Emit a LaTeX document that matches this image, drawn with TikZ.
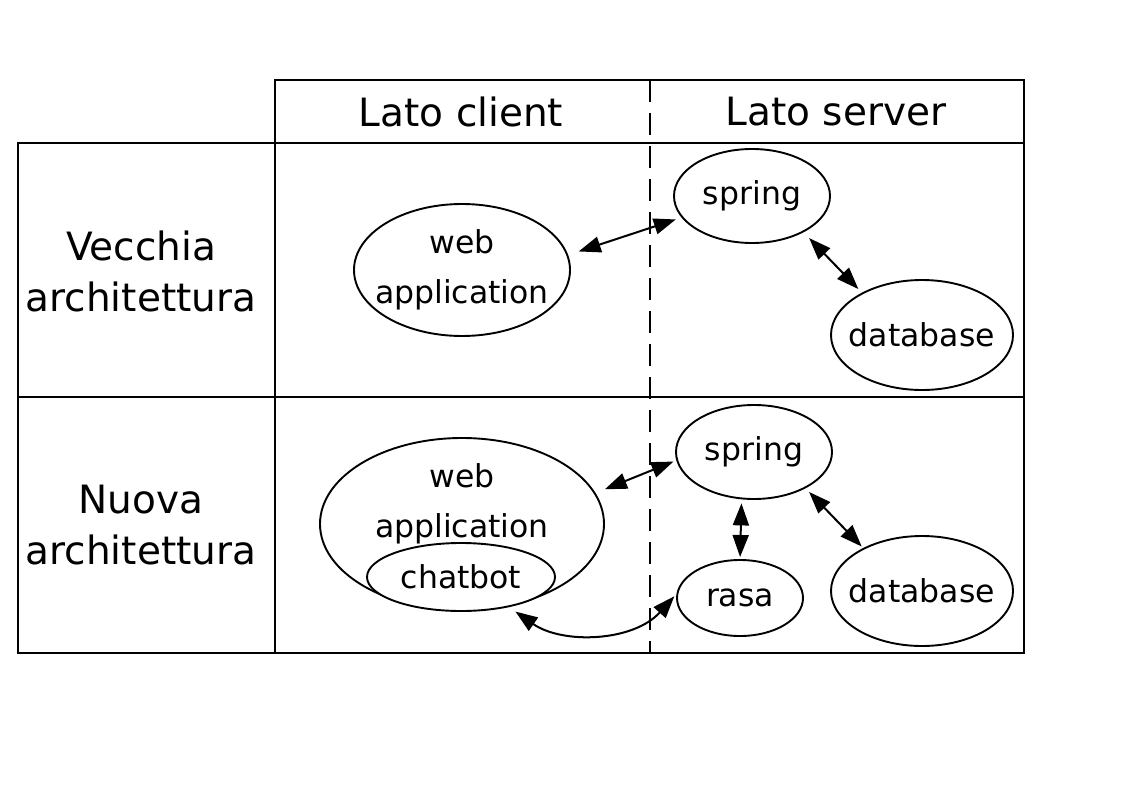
\documentclass[tikz,border=0pt]{standalone}
\usepackage{fontspec}
\setmainfont{DejaVu Sans}
\usetikzlibrary{shapes.geometric,arrows.meta}
\begin{document}
\begin{tikzpicture}[x=1pt, y=-1pt,
    blob/.style={ellipse, draw, fill=white, line width=1.9pt, inner sep=0pt, outer sep=0pt},
    word/.style={font=\fontsize{31.5}{50}\selectfont, align=center},
    head/.style={font=\fontsize{39}{51}\selectfont, align=center},
    link/.style={{Triangle[length=22pt,width=16pt]}-{Triangle[length=22pt,width=16pt]}, line width=2pt},
    grid/.style={line width=1.9pt}
]
  \useasboundingbox (0,0) rectangle (1123,794);

  % tabella
  \draw[grid] (275,80) rectangle (1024,143);
  \draw[grid] (18,143) rectangle (1024,653);
  \draw[grid] (275,143) -- (275,653);
  \draw[grid] (18,397) -- (1024,397);
  \draw[grid, dash pattern=on 22pt off 11pt] (650,80) -- (650,653);

  % intestazioni
  \node[head] (client) at (461,112) {Lato client};
  \node[head] (server) at (836,112) {Lato server};
  \node[head] (vecchia) at (141,271) {Vecchia\\architettura};
  \node[head] (nuova) at (141,525) {Nuova\\architettura};

  % vecchia architettura
  \node[blob, minimum width=216, minimum height=132] (web1) at (462,270) {};
  \node[blob, minimum width=156, minimum height=94] (spring1) at (752,196) {};
  \node[blob, minimum width=182, minimum height=110] (db1) at (922,335) {};
  \node[word] (web1t) at (web1) {web\\application};
  \node[word] (spring1t) at (spring1) {spring};
  \node[word] (db1t) at (db1) {database};

  % nuova architettura
  \node[blob, minimum width=284, minimum height=172] (web2) at (462,524) {};
  \node[blob, minimum width=188, minimum height=68] (chat) at (461,577) {};
  \node[blob, minimum width=156, minimum height=94] (spring2) at (754,452) {};
  \node[blob, minimum width=126, minimum height=76] (rasa) at (740,598) {};
  \node[blob, minimum width=182, minimum height=110] (db2) at (922,591) {};
  \node[word] (web2t) at (462,504) {web\\application};
  \node[word] (chatt) at (chat) {chatbot};
  \node[word] (spring2t) at (spring2) {spring};
  \node[word] (rasat) at (rasa) {rasa};
  \node[word] (db2t) at (db2) {database};

  % collegamenti
  \draw[link, shorten <=12pt, shorten >=7pt] (web1.8) -- (spring1.197);
  \draw[link, shorten <=9pt, shorten >=6pt] (spring1.-35) -- (db1.145);
  \draw[link, shorten <=11pt, shorten >=4pt] (web2.13) -- (spring2.186);
  \draw[link, shorten <=6pt, shorten >=3pt] (spring2.-35) -- (db2.144);
  \draw[link, shorten <=5pt, shorten >=3pt] (spring2.255) -- (rasa.north);
  \draw[link, shorten <=9pt, shorten >=5pt] (chat.-32) to[out=-35, in=228] (rasa.175);

\end{tikzpicture}
\end{document}
